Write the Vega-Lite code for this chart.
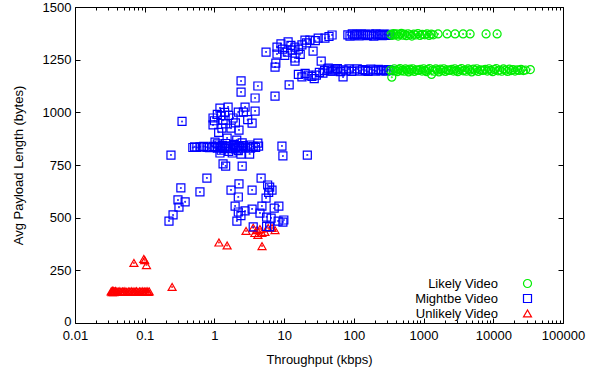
{
  "$schema": "https://vega.github.io/schema/vega-lite/v6.json",
  "width": 488,
  "height": 316,
  "autosize": {"type": "none"},
  "padding": {"left": 75, "top": 7, "right": 26, "bottom": 52},
  "config": {
    "view": {"stroke": null},
    "font": "Liberation Sans",
    "axis": {
      "domainColor": "black", "tickColor": "black", "labelColor": "black", "titleColor": "black",
      "labelFontSize": 13, "titleFontSize": 13, "titleFontWeight": "normal", "grid": false,
      "labelFont": "Liberation Sans", "titleFont": "Liberation Sans"
    }
  },
  "datasets": {
    "pts": [
      {"x":0.033,"y":150,"t":"Unlikely Video"},{"x":0.034,"y":146,"t":"Unlikely Video"},{"x":0.034,"y":152,"t":"Unlikely Video"},{"x":0.035,"y":148,"t":"Unlikely Video"},{"x":0.035,"y":154,"t":"Unlikely Video"},{"x":0.036,"y":146,"t":"Unlikely Video"},{"x":0.036,"y":151,"t":"Unlikely Video"},{"x":0.037,"y":149,"t":"Unlikely Video"},{"x":0.038,"y":152,"t":"Unlikely Video"},{"x":0.039,"y":147,"t":"Unlikely Video"},{"x":0.040,"y":150,"t":"Unlikely Video"},{"x":0.042,"y":149,"t":"Unlikely Video"},{"x":0.044,"y":151,"t":"Unlikely Video"},{"x":0.046,"y":148,"t":"Unlikely Video"},{"x":0.048,"y":150,"t":"Unlikely Video"},{"x":0.050,"y":149,"t":"Unlikely Video"},{"x":0.052,"y":151,"t":"Unlikely Video"},{"x":0.055,"y":148,"t":"Unlikely Video"},{"x":0.058,"y":150,"t":"Unlikely Video"},{"x":0.061,"y":149,"t":"Unlikely Video"},{"x":0.064,"y":151,"t":"Unlikely Video"},{"x":0.067,"y":148,"t":"Unlikely Video"},{"x":0.070,"y":150,"t":"Unlikely Video"},{"x":0.073,"y":149,"t":"Unlikely Video"},{"x":0.076,"y":151,"t":"Unlikely Video"},{"x":0.080,"y":148,"t":"Unlikely Video"},{"x":0.084,"y":150,"t":"Unlikely Video"},{"x":0.088,"y":149,"t":"Unlikely Video"},{"x":0.092,"y":151,"t":"Unlikely Video"},{"x":0.096,"y":148,"t":"Unlikely Video"},{"x":0.100,"y":150,"t":"Unlikely Video"},{"x":0.104,"y":149,"t":"Unlikely Video"},{"x":0.108,"y":151,"t":"Unlikely Video"},{"x":0.112,"y":148,"t":"Unlikely Video"},{"x":0.116,"y":150,"t":"Unlikely Video"},
      {"x":0.070,"y":285,"t":"Unlikely Video"},{"x":0.097,"y":304,"t":"Unlikely Video"},{"x":0.100,"y":298,"t":"Unlikely Video"},{"x":0.106,"y":275,"t":"Unlikely Video"},{"x":0.247,"y":171,"t":"Unlikely Video"},{"x":1.16,"y":382,"t":"Unlikely Video"},{"x":1.52,"y":368,"t":"Unlikely Video"},{"x":4.82,"y":365,"t":"Unlikely Video"},{"x":2.84,"y":437,"t":"Unlikely Video"},{"x":3.8,"y":427,"t":"Unlikely Video"},{"x":4.08,"y":441,"t":"Unlikely Video"},{"x":4.2,"y":418,"t":"Unlikely Video"},{"x":4.8,"y":427,"t":"Unlikely Video"},{"x":5.3,"y":432,"t":"Unlikely Video"},{"x":5.9,"y":451,"t":"Unlikely Video"},{"x":6.7,"y":451,"t":"Unlikely Video"},{"x":7.4,"y":441,"t":"Unlikely Video"},{"x":4.5,"y":446,"t":"Unlikely Video"},{"x":3.6,"y":452,"t":"Unlikely Video"},

      {"x":0.223,"y":484,"t":"Mightbe Video"},{"x":0.255,"y":513,"t":"Mightbe Video"},{"x":0.31,"y":550,"t":"Mightbe Video"},{"x":0.30,"y":584,"t":"Mightbe Video"},{"x":0.38,"y":575,"t":"Mightbe Video"},{"x":0.33,"y":641,"t":"Mightbe Video"},{"x":0.343,"y":957,"t":"Mightbe Video"},{"x":0.238,"y":797,"t":"Mightbe Video"},{"x":0.62,"y":622,"t":"Mightbe Video"},{"x":0.78,"y":688,"t":"Mightbe Video"},
      {"x":0.49,"y":833,"t":"Mightbe Video"},{"x":0.52,"y":836,"t":"Mightbe Video"},{"x":0.56,"y":833,"t":"Mightbe Video"},{"x":0.62,"y":836,"t":"Mightbe Video"},{"x":0.70,"y":838,"t":"Mightbe Video"},{"x":0.78,"y":834,"t":"Mightbe Video"},{"x":0.85,"y":832,"t":"Mightbe Video"},{"x":0.95,"y":838,"t":"Mightbe Video"},{"x":1.02,"y":833,"t":"Mightbe Video"},{"x":1.1,"y":830,"t":"Mightbe Video"},{"x":1.2,"y":838,"t":"Mightbe Video"},{"x":1.3,"y":834,"t":"Mightbe Video"},{"x":1.4,"y":828,"t":"Mightbe Video"},{"x":1.5,"y":840,"t":"Mightbe Video"},{"x":1.6,"y":832,"t":"Mightbe Video"},{"x":1.7,"y":836,"t":"Mightbe Video"},{"x":1.8,"y":828,"t":"Mightbe Video"},{"x":1.9,"y":842,"t":"Mightbe Video"},{"x":2.0,"y":834,"t":"Mightbe Video"},{"x":2.1,"y":826,"t":"Mightbe Video"},{"x":2.25,"y":838,"t":"Mightbe Video"},{"x":2.4,"y":830,"t":"Mightbe Video"},{"x":2.6,"y":842,"t":"Mightbe Video"},{"x":2.8,"y":832,"t":"Mightbe Video"},{"x":3.0,"y":836,"t":"Mightbe Video"},{"x":3.3,"y":830,"t":"Mightbe Video"},{"x":3.6,"y":838,"t":"Mightbe Video"},{"x":3.9,"y":834,"t":"Mightbe Video"},{"x":4.3,"y":840,"t":"Mightbe Video"},{"x":1.25,"y":820,"t":"Mightbe Video"},{"x":1.6,"y":815,"t":"Mightbe Video"},{"x":2.2,"y":818,"t":"Mightbe Video"},{"x":1.1,"y":850,"t":"Mightbe Video"},{"x":1.45,"y":852,"t":"Mightbe Video"},{"x":1.9,"y":848,"t":"Mightbe Video"},{"x":2.5,"y":855,"t":"Mightbe Video"},{"x":1.3,"y":843,"t":"Mightbe Video"},{"x":3.2,"y":845,"t":"Mightbe Video"},
      {"x":1.2,"y":807,"t":"Mightbe Video"},{"x":1.8,"y":807,"t":"Mightbe Video"},{"x":2.4,"y":802,"t":"Mightbe Video"},{"x":3.2,"y":802,"t":"Mightbe Video"},{"x":1.33,"y":755,"t":"Mightbe Video"},{"x":1.45,"y":745,"t":"Mightbe Video"},{"x":2.5,"y":745,"t":"Mightbe Video"},{"x":9.3,"y":840,"t":"Mightbe Video"},{"x":9.6,"y":793,"t":"Mightbe Video"},{"x":21.5,"y":797,"t":"Mightbe Video"},
      {"x":2.25,"y":660,"t":"Mightbe Video"},{"x":4.67,"y":688,"t":"Mightbe Video"},{"x":5.8,"y":655,"t":"Mightbe Video"},{"x":1.73,"y":631,"t":"Mightbe Video"},{"x":3.47,"y":631,"t":"Mightbe Video"},{"x":6.7,"y":631,"t":"Mightbe Video"},{"x":6.2,"y":645,"t":"Mightbe Video"},{"x":2.2,"y":598,"t":"Mightbe Video"},{"x":5.5,"y":593,"t":"Mightbe Video"},{"x":1.98,"y":555,"t":"Mightbe Video"},{"x":4.8,"y":555,"t":"Mightbe Video"},{"x":8.4,"y":555,"t":"Mightbe Video"},{"x":2.2,"y":527,"t":"Mightbe Video"},{"x":2.75,"y":532,"t":"Mightbe Video"},{"x":3.47,"y":541,"t":"Mightbe Video"},{"x":4.5,"y":522,"t":"Mightbe Video"},{"x":5.6,"y":503,"t":"Mightbe Video"},{"x":6.5,"y":498,"t":"Mightbe Video"},{"x":2.1,"y":484,"t":"Mightbe Video"},{"x":8.2,"y":484,"t":"Mightbe Video"},{"x":9.9,"y":489,"t":"Mightbe Video"},{"x":3.6,"y":456,"t":"Mightbe Video"},{"x":6.2,"y":456,"t":"Mightbe Video"},{"x":5.6,"y":458,"t":"Mightbe Video"},{"x":9.6,"y":479,"t":"Mightbe Video"},{"x":2.4,"y":510,"t":"Mightbe Video"},{"x":7.2,"y":545,"t":"Mightbe Video"},{"x":6.0,"y":620,"t":"Mightbe Video"},
      {"x":0.955,"y":973,"t":"Mightbe Video"},{"x":1.33,"y":963,"t":"Mightbe Video"},{"x":1.85,"y":973,"t":"Mightbe Video"},{"x":2.6,"y":1001,"t":"Mightbe Video"},{"x":0.955,"y":940,"t":"Mightbe Video"},{"x":3.47,"y":949,"t":"Mightbe Video"},{"x":1.28,"y":925,"t":"Mightbe Video"},{"x":1.73,"y":925,"t":"Mightbe Video"},{"x":2.25,"y":916,"t":"Mightbe Video"},{"x":1.52,"y":878,"t":"Mightbe Video"},{"x":2.09,"y":868,"t":"Mightbe Video"},{"x":1.02,"y":859,"t":"Mightbe Video"},{"x":4.2,"y":854,"t":"Mightbe Video"},{"x":1.2,"y":1020,"t":"Mightbe Video"},{"x":1.57,"y":1025,"t":"Mightbe Video"},{"x":2.75,"y":1025,"t":"Mightbe Video"},{"x":3.83,"y":1006,"t":"Mightbe Video"},{"x":3.83,"y":1068,"t":"Mightbe Video"},{"x":7.4,"y":1077,"t":"Mightbe Video"},{"x":4.2,"y":1125,"t":"Mightbe Video"},{"x":11.8,"y":1130,"t":"Mightbe Video"},{"x":2.41,"y":1149,"t":"Mightbe Video"},{"x":2.41,"y":1096,"t":"Mightbe Video"},{"x":7.4,"y":1215,"t":"Mightbe Video"},{"x":7.6,"y":1234,"t":"Mightbe Video"},{"x":14.3,"y":1243,"t":"Mightbe Video"},{"x":1.1,"y":990,"t":"Mightbe Video"},{"x":1.4,"y":1000,"t":"Mightbe Video"},{"x":1.6,"y":985,"t":"Mightbe Video"},{"x":2.0,"y":950,"t":"Mightbe Video"},{"x":1.15,"y":905,"t":"Mightbe Video"},{"x":1.45,"y":945,"t":"Mightbe Video"},{"x":1.0,"y":960,"t":"Mightbe Video"},{"x":1.25,"y":985,"t":"Mightbe Video"},{"x":2.2,"y":1001,"t":"Mightbe Video"},{"x":3.0,"y":965,"t":"Mightbe Video"},
      {"x":5.5,"y":1286,"t":"Mightbe Video"},{"x":7.9,"y":1310,"t":"Mightbe Video"},{"x":7.9,"y":1277,"t":"Mightbe Video"},{"x":11.4,"y":1334,"t":"Mightbe Video"},{"x":11.1,"y":1286,"t":"Mightbe Video"},{"x":14.3,"y":1310,"t":"Mightbe Video"},{"x":14.3,"y":1258,"t":"Mightbe Video"},{"x":18,"y":1320,"t":"Mightbe Video"},{"x":19.9,"y":1343,"t":"Mightbe Video"},{"x":26,"y":1291,"t":"Mightbe Video"},{"x":23.4,"y":1343,"t":"Mightbe Video"},{"x":30.8,"y":1352,"t":"Mightbe Video"},{"x":38.5,"y":1352,"t":"Mightbe Video"},{"x":48.7,"y":1367,"t":"Mightbe Video"},{"x":34,"y":1243,"t":"Mightbe Video"},{"x":9.5,"y":1300,"t":"Mightbe Video"},{"x":10.2,"y":1270,"t":"Mightbe Video"},{"x":12.5,"y":1318,"t":"Mightbe Video"},{"x":16,"y":1300,"t":"Mightbe Video"},{"x":21,"y":1330,"t":"Mightbe Video"},{"x":28,"y":1340,"t":"Mightbe Video"},{"x":44,"y":1360,"t":"Mightbe Video"},{"x":9,"y":1325,"t":"Mightbe Video"},{"x":13,"y":1295,"t":"Mightbe Video"},{"x":17,"y":1275,"t":"Mightbe Video"},
      {"x":18,"y":1168,"t":"Mightbe Video"},{"x":22,"y":1177,"t":"Mightbe Video"},{"x":29,"y":1177,"t":"Mightbe Video"},{"x":36,"y":1186,"t":"Mightbe Video"},{"x":43,"y":1210,"t":"Mightbe Video"},{"x":70,"y":1168,"t":"Mightbe Video"},{"x":20,"y":1185,"t":"Mightbe Video"},{"x":25,"y":1170,"t":"Mightbe Video"},{"x":32,"y":1190,"t":"Mightbe Video"},{"x":50,"y":1195,"t":"Mightbe Video"},{"x":16,"y":1180,"t":"Mightbe Video"},{"x":27,"y":1160,"t":"Mightbe Video"},{"x":55,"y":1205,"t":"Mightbe Video"},
      {"x":82,"y":1368,"t":"Mightbe Video"},{"x":88,"y":1362,"t":"Mightbe Video"},{"x":95,"y":1372,"t":"Mightbe Video"},{"x":102,"y":1366,"t":"Mightbe Video"},{"x":110,"y":1370,"t":"Mightbe Video"},{"x":118,"y":1363,"t":"Mightbe Video"},{"x":127,"y":1372,"t":"Mightbe Video"},{"x":136,"y":1367,"t":"Mightbe Video"},{"x":146,"y":1370,"t":"Mightbe Video"},{"x":157,"y":1364,"t":"Mightbe Video"},{"x":168,"y":1371,"t":"Mightbe Video"},{"x":180,"y":1368,"t":"Mightbe Video"},{"x":193,"y":1362,"t":"Mightbe Video"},{"x":207,"y":1372,"t":"Mightbe Video"},{"x":222,"y":1366,"t":"Mightbe Video"},{"x":238,"y":1370,"t":"Mightbe Video"},{"x":255,"y":1364,"t":"Mightbe Video"},{"x":272,"y":1371,"t":"Mightbe Video"},{"x":290,"y":1368,"t":"Mightbe Video"},{"x":310,"y":1365,"t":"Mightbe Video"},{"x":328,"y":1370,"t":"Mightbe Video"},
      {"x":38,"y":1198,"t":"Mightbe Video"},{"x":42,"y":1205,"t":"Mightbe Video"},{"x":47,"y":1195,"t":"Mightbe Video"},{"x":52,"y":1200,"t":"Mightbe Video"},{"x":58,"y":1208,"t":"Mightbe Video"},{"x":64,"y":1193,"t":"Mightbe Video"},{"x":70,"y":1202,"t":"Mightbe Video"},{"x":77,"y":1197,"t":"Mightbe Video"},{"x":85,"y":1206,"t":"Mightbe Video"},{"x":93,"y":1194,"t":"Mightbe Video"},{"x":102,"y":1201,"t":"Mightbe Video"},{"x":112,"y":1207,"t":"Mightbe Video"},{"x":122,"y":1196,"t":"Mightbe Video"},{"x":134,"y":1203,"t":"Mightbe Video"},{"x":146,"y":1199,"t":"Mightbe Video"},{"x":160,"y":1194,"t":"Mightbe Video"},{"x":175,"y":1205,"t":"Mightbe Video"},{"x":190,"y":1200,"t":"Mightbe Video"},{"x":207,"y":1196,"t":"Mightbe Video"},{"x":225,"y":1204,"t":"Mightbe Video"},{"x":245,"y":1198,"t":"Mightbe Video"},{"x":266,"y":1202,"t":"Mightbe Video"},{"x":288,"y":1195,"t":"Mightbe Video"},{"x":310,"y":1203,"t":"Mightbe Video"},{"x":330,"y":1199,"t":"Mightbe Video"},

      {"x":340,"y":1370,"t":"Likely Video"},{"x":355,"y":1365,"t":"Likely Video"},{"x":372,"y":1374,"t":"Likely Video"},{"x":390,"y":1368,"t":"Likely Video"},{"x":410,"y":1372,"t":"Likely Video"},{"x":432,"y":1362,"t":"Likely Video"},{"x":455,"y":1370,"t":"Likely Video"},{"x":480,"y":1375,"t":"Likely Video"},{"x":505,"y":1366,"t":"Likely Video"},{"x":535,"y":1371,"t":"Likely Video"},{"x":565,"y":1364,"t":"Likely Video"},{"x":600,"y":1373,"t":"Likely Video"},{"x":640,"y":1368,"t":"Likely Video"},{"x":680,"y":1362,"t":"Likely Video"},{"x":725,"y":1371,"t":"Likely Video"},{"x":775,"y":1367,"t":"Likely Video"},{"x":830,"y":1374,"t":"Likely Video"},{"x":890,"y":1365,"t":"Likely Video"},{"x":960,"y":1370,"t":"Likely Video"},{"x":1040,"y":1368,"t":"Likely Video"},{"x":1120,"y":1372,"t":"Likely Video"},{"x":1200,"y":1365,"t":"Likely Video"},{"x":1290,"y":1371,"t":"Likely Video"},{"x":1380,"y":1368,"t":"Likely Video"},{"x":1615,"y":1372,"t":"Likely Video"},{"x":2175,"y":1372,"t":"Likely Video"},{"x":2830,"y":1372,"t":"Likely Video"},{"x":3690,"y":1372,"t":"Likely Video"},{"x":4650,"y":1372,"t":"Likely Video"},{"x":7880,"y":1372,"t":"Likely Video"},{"x":11350,"y":1372,"t":"Likely Video"},
      {"x":335,"y":1200,"t":"Likely Video"},{"x":350,"y":1167,"t":"Likely Video"},{"x":365,"y":1196,"t":"Likely Video"},{"x":380,"y":1207,"t":"Likely Video"},{"x":400,"y":1199,"t":"Likely Video"},{"x":420,"y":1193,"t":"Likely Video"},{"x":440,"y":1203,"t":"Likely Video"},{"x":460,"y":1208,"t":"Likely Video"},{"x":480,"y":1197,"t":"Likely Video"},{"x":500,"y":1201,"t":"Likely Video"},{"x":525,"y":1195,"t":"Likely Video"},{"x":550,"y":1206,"t":"Likely Video"},{"x":580,"y":1200,"t":"Likely Video"},{"x":610,"y":1192,"t":"Likely Video"},{"x":640,"y":1205,"t":"Likely Video"},{"x":670,"y":1198,"t":"Likely Video"},{"x":700,"y":1207,"t":"Likely Video"},{"x":740,"y":1194,"t":"Likely Video"},{"x":780,"y":1202,"t":"Likely Video"},{"x":820,"y":1199,"t":"Likely Video"},{"x":860,"y":1200,"t":"Likely Video"},{"x":900,"y":1204,"t":"Likely Video"},{"x":950,"y":1196,"t":"Likely Video"},{"x":1000,"y":1207,"t":"Likely Video"},{"x":1050,"y":1199,"t":"Likely Video"},{"x":1100,"y":1193,"t":"Likely Video"},{"x":1160,"y":1203,"t":"Likely Video"},{"x":1220,"y":1208,"t":"Likely Video"},{"x":1300,"y":1180,"t":"Likely Video"},{"x":1350,"y":1201,"t":"Likely Video"},{"x":1420,"y":1195,"t":"Likely Video"},{"x":1500,"y":1206,"t":"Likely Video"},{"x":1580,"y":1200,"t":"Likely Video"},{"x":1660,"y":1192,"t":"Likely Video"},{"x":1750,"y":1205,"t":"Likely Video"},{"x":1850,"y":1198,"t":"Likely Video"},{"x":1950,"y":1207,"t":"Likely Video"},{"x":2050,"y":1194,"t":"Likely Video"},{"x":2150,"y":1202,"t":"Likely Video"},{"x":2270,"y":1199,"t":"Likely Video"},{"x":2400,"y":1200,"t":"Likely Video"},{"x":2530,"y":1204,"t":"Likely Video"},{"x":2670,"y":1196,"t":"Likely Video"},{"x":2800,"y":1207,"t":"Likely Video"},{"x":2950,"y":1199,"t":"Likely Video"},{"x":3100,"y":1193,"t":"Likely Video"},{"x":3300,"y":1203,"t":"Likely Video"},{"x":3500,"y":1208,"t":"Likely Video"},{"x":3700,"y":1197,"t":"Likely Video"},{"x":3900,"y":1201,"t":"Likely Video"},{"x":4100,"y":1195,"t":"Likely Video"},{"x":4350,"y":1206,"t":"Likely Video"},{"x":4600,"y":1200,"t":"Likely Video"},{"x":4900,"y":1192,"t":"Likely Video"},{"x":5200,"y":1205,"t":"Likely Video"},{"x":5500,"y":1198,"t":"Likely Video"},{"x":5800,"y":1207,"t":"Likely Video"},{"x":6100,"y":1194,"t":"Likely Video"},{"x":6500,"y":1202,"t":"Likely Video"},{"x":6900,"y":1199,"t":"Likely Video"},{"x":7300,"y":1200,"t":"Likely Video"},{"x":7700,"y":1204,"t":"Likely Video"},{"x":8200,"y":1196,"t":"Likely Video"},{"x":8700,"y":1207,"t":"Likely Video"},{"x":9200,"y":1199,"t":"Likely Video"},{"x":9800,"y":1193,"t":"Likely Video"},{"x":10400,"y":1203,"t":"Likely Video"},{"x":11000,"y":1208,"t":"Likely Video"},{"x":11700,"y":1197,"t":"Likely Video"},{"x":12400,"y":1201,"t":"Likely Video"},{"x":13200,"y":1195,"t":"Likely Video"},{"x":14000,"y":1206,"t":"Likely Video"},{"x":15000,"y":1200,"t":"Likely Video"},{"x":16000,"y":1194,"t":"Likely Video"},{"x":17000,"y":1205,"t":"Likely Video"},{"x":18000,"y":1198,"t":"Likely Video"},{"x":19200,"y":1203,"t":"Likely Video"},{"x":20500,"y":1196,"t":"Likely Video"},{"x":22000,"y":1202,"t":"Likely Video"},{"x":23500,"y":1199,"t":"Likely Video"},{"x":25000,"y":1204,"t":"Likely Video"},{"x":27000,"y":1198,"t":"Likely Video"},{"x":29000,"y":1201,"t":"Likely Video"},{"x":34000,"y":1203,"t":"Likely Video"}
    ]
  },
  "data": {"name": "pts"},
  "layer": [
    {
      "mark": {"type": "point", "filled": false, "strokeWidth": 1.2, "size": 64, "opacity": 1},
      "encoding": {
        "x": {
          "field": "x", "type": "quantitative",
          "scale": {"type": "log", "domain": [0.01, 100000], "nice": false},
          "axis": {
            "orient": "bottom",
            "values": [0.01,0.02,0.03,0.04,0.05,0.06,0.07,0.08,0.09,0.1,0.2,0.3,0.4,0.5,0.6,0.7,0.8,0.9,1,2,3,4,5,6,7,8,9,10,20,30,40,50,60,70,80,90,100,200,300,400,500,600,700,800,900,1000,2000,3000,4000,5000,6000,7000,8000,9000,10000,20000,30000,40000,50000,60000,70000,80000,90000,100000],
            "format": "~g",
            "labelExpr": "abs(log(datum.value)/LN10 - round(log(datum.value)/LN10)) < 0.000001 ? datum.label : ''",
            "tickSize": {"condition": {"test": "abs(log(datum.value)/LN10 - round(log(datum.value)/LN10)) < 0.000001", "value": -5}, "value": -3},
            "labelOverlap": false, "labelFlush": false,
            "labelPadding": 11, "title": "Throughput (kbps)", "titlePadding": 9
          }
        },
        "y": {
          "field": "y", "type": "quantitative",
          "scale": {"domain": [0, 1500], "nice": false, "zero": true},
          "axis": {
            "orient": "left", "values": [0,250,500,750,1000,1250,1500], "format": "d",
            "tickSize": -5, "labelPadding": 9, "labelFlush": false,
            "labelOffset": {"condition": {"test": "datum.value == 0", "value": -2}, "value": 0},
            "title": "Avg Payload Length (bytes)", "titlePadding": 17
          }
        },
        "color": {
          "field": "t", "type": "nominal",
          "scale": {"domain": ["Likely Video","Mightbe Video","Unlikely Video"], "range": ["#00ee00","#0000ff","#ff0000"]},
          "legend": {"orient": "none", "legendX": 446, "legendY": 270, "title": null, "padding": 0, "labelAlign": "right", "labelOffset": -36, "labelFontSize": 13, "labelColor": "black", "labelFont": "Liberation Sans", "symbolSize": 64, "symbolStrokeWidth": 1.2, "rowPadding": 1}
        },
        "shape": {
          "field": "t", "type": "nominal",
          "scale": {"domain": ["Likely Video","Mightbe Video","Unlikely Video"], "range": ["circle","square","triangle-up"]},
          "legend": {"orient": "none", "legendX": 446, "legendY": 270, "title": null, "padding": 0, "labelAlign": "right", "labelOffset": -36, "labelFontSize": 13, "labelColor": "black", "labelFont": "Liberation Sans", "symbolSize": 64, "symbolStrokeWidth": 1.2, "rowPadding": 1}
        }
      }
    },
    {
      "mark": {"type": "point", "filled": false, "shape": "circle", "size": 0.4, "strokeWidth": 1.4, "opacity": 1},
      "encoding": {
        "x": {
          "field": "x", "type": "quantitative",
          "scale": {"type": "log", "domain": [0.01, 100000], "nice": false},
          "axis": {
            "orient": "top",
            "values": [0.01,0.02,0.03,0.04,0.05,0.06,0.07,0.08,0.09,0.1,0.2,0.3,0.4,0.5,0.6,0.7,0.8,0.9,1,2,3,4,5,6,7,8,9,10,20,30,40,50,60,70,80,90,100,200,300,400,500,600,700,800,900,1000,2000,3000,4000,5000,6000,7000,8000,9000,10000,20000,30000,40000,50000,60000,70000,80000,90000,100000],
            "labels": false, "title": null,
            "tickSize": {"condition": {"test": "abs(log(datum.value)/LN10 - round(log(datum.value)/LN10)) < 0.000001", "value": -5}, "value": -3}
          }
        },
        "y": {
          "field": "y", "type": "quantitative",
          "scale": {"domain": [0, 1500], "nice": false, "zero": true},
          "axis": {"orient": "right", "values": [0,250,500,750,1000,1250,1500], "labels": false, "title": null, "tickSize": -5}
        },
        "color": {"field": "t", "type": "nominal", "legend": null}
      }
    }
  ],
  "resolve": {"axis": {"x": "independent", "y": "independent"}}
}
